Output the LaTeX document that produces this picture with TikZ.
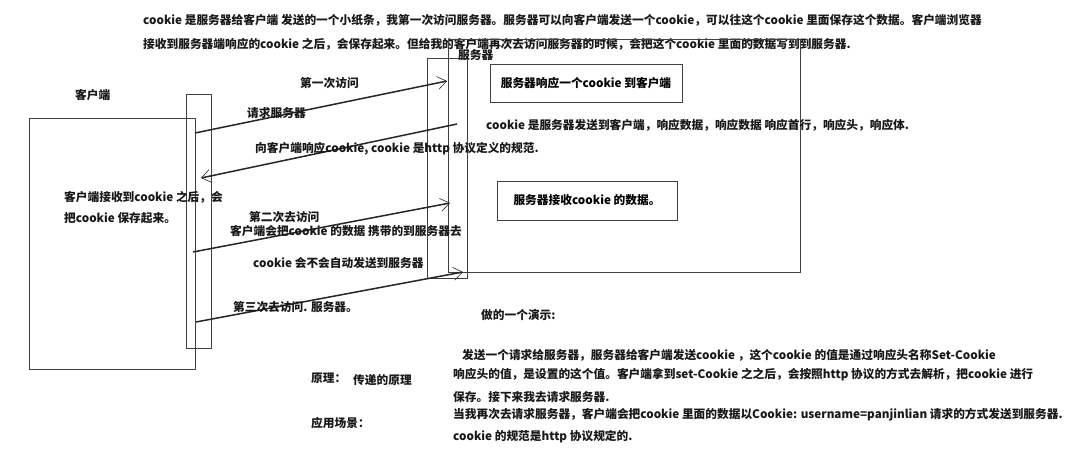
\documentclass[tikz,border=0pt]{standalone}
\usepackage{fontspec}
\setmainfont{Noto Sans CJK SC}
\usetikzlibrary{arrows.meta}

\begin{document}
\begin{tikzpicture}[x=1pt,y=-1pt,
	box/.style={draw=black!75,line width=0.8pt},
	inbox/.style={draw=black!75,line width=0.8pt,inner sep=0pt,font=\bfseries\fontsize{11.7}{14}\selectfont},
	txt/.style={anchor=west,inner sep=0pt,font=\bfseries\fontsize{11.7}{14}\selectfont,text=black!90},
	msg/.style={draw=black!85,line width=1.5pt,-{Straight Barb[length=9pt,width=13pt,line width=0.6pt]}}]
		
		\useasboundingbox[fill=white] (0,0) rectangle (1076,454);
		
		% Note at the top
		\node[txt] (note1) at (143,20) {cookie 是服务器给客户端 发送的一个小纸条，我第一次访问服务器。服务器可以向客户端发送一个cookie，可以往这个cookie 里面保存这个数据。客户端浏览器};
		\node[txt] (note2) at (143,44) {接收到服务器端响应的cookie 之后，会保存起来。但给我的客户端再次去访问服务器的时候，会把这个cookie 里面的数据写到到服务器.};
		
		% Client (box and lifeline)
		\draw[box] (29,118) rectangle (195,369);
		\draw[box] (186,94) rectangle (211,348);
		\node[txt] (client) at (75,95) {客户端}; % Label for the client
		\node[txt] (keep1) at (64,197) {客户端接收到cookie 之后，会};
		\node[txt] (keep2) at (64,218) {把cookie 保存起来。};
		
		% Server (box and lifeline)
		\draw[box] (448,39) rectangle (800,272);
		\draw[box] (427,58) rectangle (467,278);
		\node[txt] (server) at (458,55) {服务器}; % Label for the server
		\node[inbox, minimum width=192pt, minimum height=38pt] (respbox) at (586,83) {服务器响应一个cookie 到客户端};
		\node[inbox, minimum width=180pt, minimum height=39pt] (recvbox) at (587,200.5) {服务器接收cookie 的数据。};
		\node[txt] (resp) at (486,125) {cookie 是服务器发送到客户端，响应数据，响应数据 响应首行，响应头，响应体.};
		
		% Ends of the messages on the lifelines
		\coordinate (c1) at (195,133);
		\coordinate (s1) at (447,81);
		\coordinate (s2) at (457,124);
		\coordinate (c2) at (201,178);
		\coordinate (c3) at (193,252);
		\coordinate (s3) at (450,203);
		\coordinate (c4) at (196,322);
		\coordinate (s4) at (463,272);
		
		% First visit
		\draw[msg] (c1) -- (s1);
		\node[txt] (first) at (300,83) {第一次访问};
		\node[txt] (ask) at (247,113) {请求服务器};
		
		% Response with the cookie
		\draw[msg] (s2) -- (c2);
		\node[txt] (give) at (255,149) {向客户端响应cookie, cookie 是http 协议定义的规范.};
		
		% Second visit
		\draw[msg] (c3) -- (s3);
		\node[txt] (second) at (249,217) {第二次去访问};
		\node[txt] (carry) at (230,231) {客户端会把cookie 的数据 携带的到服务器去};
		\node[txt] (auto) at (253,263) {cookie 会不会自动发送到服务器};
		
		% Third visit
		\draw[msg] (c4) -- (s4);
		\node[txt] (third) at (233,307) {第三次去访问. 服务器。};
		
		% Notes at the bottom
		\node[txt] (demo) at (481,315) {做的一个演示:};
		\node[txt] (why) at (311,378) {原理：};
		\node[txt] (pass) at (353,380) {传递的原理};
		\node[txt] (use) at (311,423) {应用场景：};
		\node[txt] (how1) at (462,355) {发送一个请求给服务器，服务器给客户端发送cookie ，这个cookie 的值是通过响应头名称Set-Cookie};
		\node[txt] (how2) at (453,375) {响应头的值，是设置的这个值。客户端拿到set-Cookie 之之后，会按照http 协议的方式去解析，把cookie 进行};
		\node[txt] (how3) at (453,397) {保存。接下来我去请求服务器.};
		\node[txt] (how4) at (453,415) {当我再次去请求服务器，客户端会把cookie 里面的数据以Cookie: username=panjinlian 请求的方式发送到服务器.};
		\node[txt] (how5) at (453,437) {cookie 的规范是http 协议规定的.};
	\end{tikzpicture}
\end{document}
